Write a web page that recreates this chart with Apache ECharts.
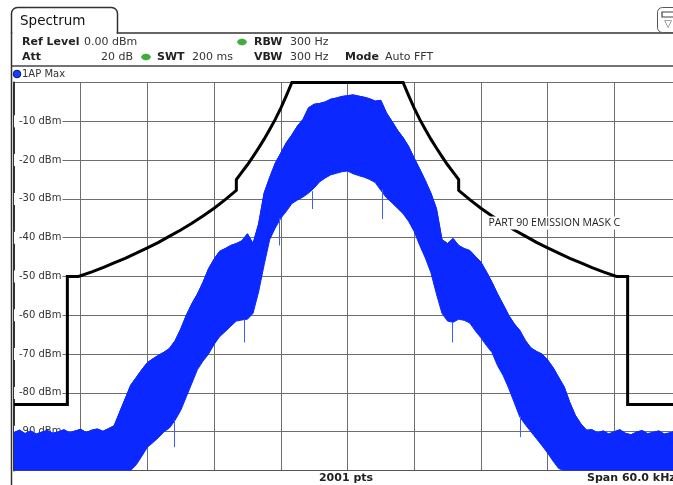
<!DOCTYPE html>
<html><head><meta charset="utf-8">
<script src="https://cdn.jsdelivr.net/npm/echarts@6/dist/echarts.min.js"></script>
<style>html,body{margin:0;padding:0;background:#fff}#c{width:673px;height:485px}</style>
</head><body><div id="c"></div><script>
// frequency offset from centre (kHz), 0.5 kHz steps
const freq = [
 -30,-29.5,-29,-28.5,-28,-27.5,-27,-26.5,-26,-25.5,
 -25,-24.5,-24,-23.5,-23,-22.5,-22,-21.5,-21,-20.5,
 -20,-19.5,-19,-18.5,-18,-17.5,-17,-16.5,-16,-15.5,
 -15,-14.5,-14,-13.5,-13,-12.5,-12,-11.5,-11,-10.5,
 -10,-9.5,-9,-8.5,-8,-7.5,-7,-6.5,-6,-5.5,
 -5,-4.5,-4,-3.5,-3,-2.5,-2,-1.5,-1,-0.5,
 0,0.5,1,1.5,2,2.5,3,3.5,4,4.5,
 5,5.5,6,6.5,7,7.5,8,8.5,9,9.5,
 10,10.5,11,11.5,12,12.5,13,13.5,14,14.5,
 15,15.5,16,16.5,17,17.5,18,18.5,19,19.5,
 20,20.5,21,21.5,22,22.5,23,23.5,24,24.5,
 25,25.5,26,26.5,27,27.5,28,28.5,29,29.5,
 30];
// max-hold trace: upper envelope (dBm)
const upper = [
 -90.2,-89.6,-90.5,-89.8,-90.6,-90.1,-89.7,-90.4,-90.0,-89.5,
 -90.3,-89.8,-89.4,-90.2,-89.6,-89.3,-89.9,-89.2,-88.5,-85.0,
 -81.5,-78.0,-76.0,-74.0,-72.2,-71.2,-70.3,-69.5,-68.5,-66.5,
 -63.5,-60.0,-57.0,-54.5,-51.5,-48.0,-45.5,-43.5,-42.8,-42.0,
 -41.5,-40.8,-39.0,-41.5,-36.5,-28.5,-24.5,-20.8,-18.2,-15.5,
 -13.5,-11.2,-9.5,-6.5,-5.6,-5.4,-5.0,-4.3,-4.0,-3.6,
 -3.4,-3.2,-3.5,-3.8,-4.2,-4.8,-4.6,-7.8,-10.0,-12.3,
 -14.2,-16.5,-19.5,-22.3,-25.3,-28.5,-32.5,-40.5,-41.5,-40.2,
 -42.0,-42.8,-43.3,-44.8,-46.3,-48.8,-51.5,-54.5,-57.2,-60.0,
 -62.2,-63.9,-66.5,-68.4,-69.3,-70.0,-71.5,-73.5,-76.0,-78.5,
 -82.5,-85.8,-88.0,-89.6,-89.5,-90.3,-89.8,-90.6,-90.0,-89.5,
 -90.4,-90.8,-90.1,-89.7,-90.5,-90.2,-89.8,-90.6,-90.3,-89.9,
 -90.4];
// max-hold trace: lower envelope (dBm)
const lower = [
 -100,-100,-100,-100,-100,-100,-100,-100,-100,-100,
 -100,-100,-100,-100,-100,-100,-100,-100,-100,-100,
 -100,-100,-98.5,-96.3,-94.0,-92.8,-91.5,-90.0,-89.0,-87.0,
 -84.5,-81.0,-77.5,-74.0,-71.8,-70.0,-67.5,-65.5,-64.2,-62.8,
 -61.5,-61.2,-61.0,-59.5,-54.0,-47.0,-40.5,-37.5,-35.0,-33.2,
 -31.2,-30.3,-29.5,-28.5,-27.2,-25.6,-24.6,-23.8,-23.4,-23.0,
 -22.8,-23.5,-24.0,-24.4,-25.0,-25.8,-27.8,-29.7,-31.0,-32.4,
 -33.8,-35.8,-38.4,-42.0,-45.2,-49.0,-54.5,-59.5,-61.5,-61.8,
 -61.0,-61.3,-62.0,-64.0,-65.8,-67.8,-69.6,-73.0,-75.5,-78.8,
 -82.5,-86.2,-88.2,-90.0,-91.8,-93.6,-95.5,-97.6,-99.5,-100,
 -100,-100,-100,-100,-100,-100,-100,-100,-100,-100,
 -100,-100,-100,-100,-100,-100,-100,-100,-100,-100,
 -100];
// isolated downward spikes: [freq, from, to]
const spikes = [[-15.6,-87,-94],[-9.3,-61,-67],[-6.1,-35,-42],[-3.2,-28,-32.6],[3.1,-27.5,-35.2],[9.4,-61.8,-67],[15.5,-86,-91.4]];
// Part 90 emission mask C
const maskFreq = [-30,-25.2,-25.2,-24.2,-23,-22,-21,-20,-19,-18,-17,-16,-15,-14,-13,-12,-11,-10,-10,
 -9.5,-9,-8.5,-8,-7.5,-7,-6.5,-6,-5.5,-5,5,5.5,6,6.5,7,7.5,8,8.5,9,9.5,10,10,
 11,12,13,14,15,16,17,18,19,20,21,22,23,24.2,25.2,25.2,30];
const maskLevel = [-83,-83,-50,-50,-48.8,-47.7,-46.5,-45.3,-44.0,-42.6,-41.2,-39.6,-38.0,-36.3,-34.4,-32.4,-30.2,-27.8,-25.0,
 -23.1,-21.2,-19.1,-16.9,-14.6,-12.1,-9.5,-6.6,-3.4,0,0,-3.4,-6.6,-9.5,-12.1,-14.6,-16.9,-19.1,-21.2,-23.1,-25.0,-27.8,
 -30.2,-32.4,-34.4,-36.3,-38.0,-39.6,-41.2,-42.6,-44.0,-45.3,-46.5,-47.7,-48.8,-50,-50,-83,-83];
const maskLabel = 'PART 90 EMISSION MASK C';
const maskLabelAt = [18.6, -36.2];

const FONT = 'DejaVu Sans';
const BLUE = '#0a28ff';
const chart = echarts.init(document.getElementById('c'), null, {renderer: 'canvas'});

function txt(x, y, s, bold, size, align, color) {
  return {type: 'text', silent: true, z: 100, x: x, y: y,
    style: {text: s, fill: color || '#222', font: (bold ? 'bold ' : '') + (size || 11) + 'px "' + FONT + '"',
      textAlign: align || 'left', textVerticalAlign: 'middle'}};
}
function gline(x1, y1, x2, y2, w, c) {
  return {type: 'line', silent: true, z: 100, shape: {x1: x1, y1: y1, x2: x2, y2: y2},
    style: {stroke: c || '#333', lineWidth: w || 1}};
}
function dot(cx, cy) {
  return {type: 'ellipse', silent: true, z: 100, shape: {cx: cx, cy: cy, rx: 4.5, ry: 3},
    style: {fill: '#3fae3f', stroke: '#2d8a2d', lineWidth: 0.5}};
}

const graphics = [
  {type: 'rect', silent: true, z: 100, shape: {x: 11.5, y: 7.5, width: 106, height: 25.5, r: [6, 6, 0, 0]},
    style: {fill: '#fff', stroke: '#333', lineWidth: 1.5}},
  {type: 'rect', silent: true, z: 101, shape: {x: 12.5, y: 32, width: 104, height: 2.5}, style: {fill: '#fff'}},
  gline(117.5, 33, 673, 33, 1.5, '#333'),
  gline(11.5, 33, 11.5, 485, 1.5, '#333'),
  gline(12, 66, 673, 66, 1.5, '#444'),
  txt(20, 21, 'Spectrum', false, 13.5, 'left', '#111'),
  {type: 'rect', silent: true, z: 100, shape: {x: 657.5, y: 7.5, width: 26, height: 25, r: 5},
    style: {fill: '#fff', stroke: '#555', lineWidth: 1}},
  {type: 'rect', silent: true, z: 101, shape: {x: 662, y: 12, width: 12, height: 5}, style: {fill: '#fff', stroke: '#444', lineWidth: 1.2}},
  txt(668, 24, '▽', false, 10, 'center', '#555'),
  txt(22, 42, 'Ref Level', true),
  txt(84, 42, '0.00 dBm', false, 11, 'left', '#333'),
  dot(242, 42),
  txt(254, 42, 'RBW', true),
  txt(290, 42, '300 Hz', false, 11, 'left', '#333'),
  txt(22, 57, 'Att', true),
  txt(133, 57, '20 dB', false, 11, 'right', '#333'),
  dot(146, 57),
  txt(157, 57, 'SWT', true),
  txt(192, 57, '200 ms', false, 11, 'left', '#333'),
  txt(254, 57, 'VBW', true),
  txt(290, 57, '300 Hz', false, 11, 'left', '#333'),
  txt(345, 57, 'Mode', true),
  txt(385, 57, 'Auto FFT', false, 11, 'left', '#333'),
  {type: 'circle', silent: true, z: 100, shape: {cx: 17, cy: 74, r: 3.8}, style: {fill: '#1a3cff', stroke: '#001a80', lineWidth: 1}},
  txt(22, 74, '1AP Max', false, 10, 'left', '#333'),
  txt(346, 478, '2001 pts', true, 11, 'center'),
  txt(587, 478, 'Span 60.0 kHz', true, 11, 'left')
];

const option = {
  animation: false,
  backgroundColor: '#fff',
  grid: {left: 14, top: 82.5, width: 667, height: 388, containLabel: false, outerBoundsMode: 'none'},
  xAxis: {
    type: 'value', min: -30, max: 30, interval: 6,
    axisLine: {show: true, onZero: false, lineStyle: {color: '#555', width: 1}},
    axisTick: {show: false}, axisLabel: {show: false},
    splitLine: {show: true, lineStyle: {color: '#6e6e6e', width: 1}}
  },
  yAxis: {
    type: 'value', min: -100, max: 0, interval: 10,
    axisLine: {show: true, onZero: false, lineStyle: {color: '#333', width: 2}},
    axisTick: {show: false},
    axisLabel: {show: true, inside: true, margin: 0, showMinLabel: false, showMaxLabel: false,
      formatter: v => v + ' dBm', color: '#333', fontSize: 10, fontFamily: FONT,
      backgroundColor: '#fff', padding: [1, 1, 1, 5]},
    splitLine: {show: true, lineStyle: {color: '#6e6e6e', width: 1}}
  },
  graphic: graphics,
  series: [
    {name: 'trace', type: 'custom', clip: true, z: 3, silent: true,
      data: [[0, -50]],
      renderItem: function (params, api) {
        const pts = [];
        for (let i = 0; i < freq.length; i++) pts.push(api.coord([freq[i], upper[i]]));
        for (let i = freq.length - 1; i >= 0; i--) pts.push(api.coord([freq[i], lower[i]]));
        return {type: 'polygon', shape: {points: pts},
          style: {fill: BLUE, stroke: BLUE, lineWidth: 1}};
      }},
    {name: 'upper edge', type: 'line', symbol: 'none', z: 3, silent: true,
      data: freq.map((f, i) => [f, upper[i]]),
      lineStyle: {color: BLUE, width: 1},
      markLine: {silent: true, symbol: 'none', label: {show: false},
        lineStyle: {color: '#3f5cff', width: 1, type: 'solid'},
        data: spikes.map(s => [{coord: [s[0], s[1]]}, {coord: [s[0], s[2]]}])}},
    {name: 'mask', type: 'line', symbol: 'none', clip: false, z: 4,
      data: maskFreq.map((f, i) => [f, maskLevel[i]]),
      lineStyle: {color: '#000', width: 3, join: 'miter'},
      markPoint: {silent: true, symbol: 'rect', symbolSize: 0.1, itemStyle: {color: 'rgba(0,0,0,0)'},
        label: {show: true, position: 'inside', formatter: maskLabel, color: '#222',
          fontFamily: 'Open Sans', fontSize: 10.5, backgroundColor: '#fff', padding: [1, 2, 1, 2]},
        data: [{coord: maskLabelAt}]}}
  ]
};
chart.setOption(option);
</script></body></html>
